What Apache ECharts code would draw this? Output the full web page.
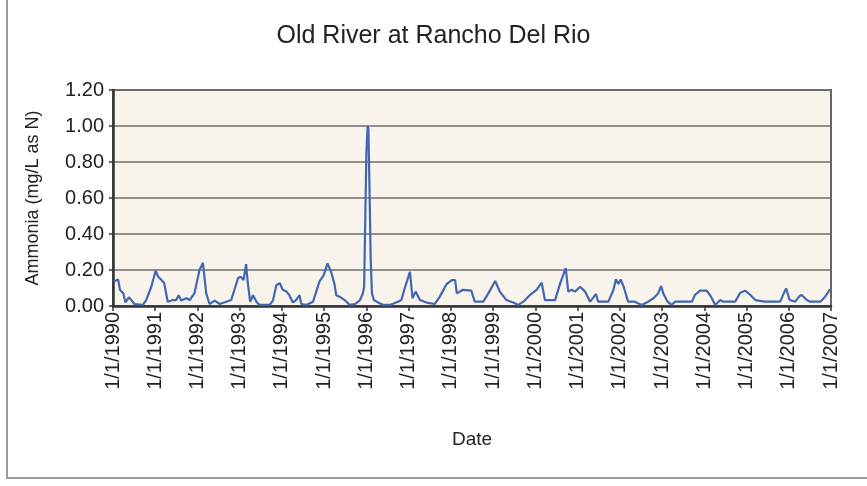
<!DOCTYPE html>
<html>
<head>
<meta charset="utf-8">
<title>Old River at Rancho Del Rio</title>
<script src="https://cdn.jsdelivr.net/npm/echarts@6/dist/echarts.min.js"></script>
<style>
  html, body { margin: 0; padding: 0; background: #fff; }
  #chart { width: 867px; height: 486px; }
</style>
</head>
<body>
<div id="chart"></div>
<script>
// sample dates and ammonia values (mg/L as N)
var dates = [
  '1990-01-05','1990-02-14','1990-03-02','1990-04-01','1990-04-19','1990-05-18','1990-06-09','1990-07-05','1990-09-17','1990-10-15','1990-11-28',
  '1991-01-05','1991-01-26','1991-02-25','1991-03-20','1991-04-19','1991-06-02','1991-07-01','1991-07-23','1991-08-14','1991-09-27','1991-10-26','1991-12-06',
  '1992-01-19','1992-02-18','1992-03-17','1992-04-15','1992-05-29','1992-07-12','1992-09-06','1992-10-19','1992-12-17',
  '1993-01-08','1993-02-03','1993-02-25','1993-03-09','1993-04-01','1993-04-26','1993-05-25','1993-06-20','1993-09-17','1993-10-15','1993-11-14','1993-12-13',
  '1994-01-08','1994-02-10','1994-03-06','1994-04-05','1994-05-03','1994-06-02','1994-06-17','1994-07-30','1994-09-27','1994-11-21','1994-12-27',
  '1995-01-30','1995-03-02','1995-04-01','1995-04-15','1995-05-14','1995-06-27','1995-08-11','1995-09-24','1995-11-07','1995-12-02','1995-12-13','1995-12-24',
  '1996-01-01','1996-01-12','1996-01-19','1996-01-30','1996-02-07','1996-02-18','1996-03-06','1996-04-12','1996-05-25','1996-07-23','1996-10-01','1996-10-30','1996-11-28',
  '1997-01-12','1997-02-03','1997-03-02','1997-04-08','1997-06-06','1997-08-14','1997-09-27','1997-11-25',
  '1998-01-08','1998-02-07','1998-02-21','1998-04-15','1998-06-27','1998-07-26','1998-10-08','1998-11-21',
  '1999-01-19','1999-02-28','1999-04-26','1999-06-24','1999-08-07','1999-09-20','1999-11-14',
  '2000-01-12','2000-02-25','2000-03-24','2000-06-20','2000-08-03','2000-09-20','2000-10-12','2000-11-11','2000-12-09',
  '2001-01-23','2001-03-06','2001-04-19','2001-05-14','2001-06-09','2001-06-27','2001-09-24','2001-11-07','2001-11-28','2001-12-20',
  '2002-01-08','2002-02-03','2002-03-13','2002-05-10','2002-07-08','2002-08-21','2002-10-19','2002-11-28','2002-12-24',
  '2003-01-12','2003-02-18','2003-03-24','2003-04-23','2003-09-17','2003-10-12','2003-11-25',
  '2004-01-23','2004-02-28','2004-04-05','2004-05-18','2004-06-13','2004-09-24','2004-11-07','2004-12-20',
  '2005-02-03','2005-03-17','2005-06-09','2005-10-19','2005-11-18','2005-12-09',
  '2006-01-08','2006-02-25','2006-04-05','2006-04-23','2006-06-06','2006-07-05','2006-10-01','2006-11-11','2006-12-24'
];
var ammonia = [
  0.135,0.148,0.09,0.07,0.02,0.048,0.033,0.011,0.006,0.033,0.107,
  0.196,0.163,0.144,0.126,0.024,0.033,0.033,0.06,0.03,0.043,0.033,0.07,
  0.2,0.24,0.07,0.011,0.03,0.011,0.024,0.033,0.154,
  0.163,0.144,0.233,0.144,0.024,0.06,0.024,0.006,0.006,0.03,0.117,0.126,
  0.09,0.08,0.06,0.02,0.033,0.06,0.011,0.006,0.024,0.135,0.17,
  0.237,0.19,0.12,0.06,0.052,0.033,0.006,0.011,0.033,0.07,0.11,0.54,
  0.85,1.0,0.98,0.58,0.27,0.07,0.033,0.019,0.006,0.006,0.024,0.033,0.1,
  0.19,0.043,0.08,0.033,0.019,0.011,0.052,0.122,
  0.144,0.144,0.07,0.09,0.085,0.024,0.024,0.07,
  0.139,0.08,0.033,0.019,0.006,0.024,0.06,
  0.09,0.13,0.033,0.033,0.126,0.21,0.08,0.09,0.08,
  0.107,0.08,0.024,0.045,0.067,0.024,0.024,0.09,0.148,0.122,
  0.148,0.107,0.024,0.024,0.006,0.019,0.043,0.07,0.111,
  0.07,0.024,0.006,0.024,0.024,0.061,0.085,
  0.085,0.052,0.006,0.033,0.024,0.024,0.074,0.085,
  0.061,0.033,0.024,0.024,0.07,0.098,
  0.033,0.024,0.056,0.061,0.033,0.024,0.024,0.052,0.093
];
var xMin = '1990-01-01';
var xMax = '2007-01-01';
var yTicks = [0, 0.2, 0.4, 0.6, 0.8, 1.0, 1.2];

var seriesData = dates.map(function (d, i) { return [d, ammonia[i]]; });
var YEAR = 365 * 24 * 3600 * 1000;
var fontFam = '"Liberation Sans", Arial, sans-serif';

var myChart = echarts.init(document.getElementById('chart'));
var option = {
  backgroundColor: '#fff',
  animation: false,
  title: {
    text: 'Old River at Rancho Del Rio',
    left: 'center',
    top: 19,
    textStyle: { fontFamily: fontFam, fontSize: 25, fontWeight: 'normal', color: '#222' }
  },
  grid: {
    left: 113, right: 36, top: 90, bottom: 180,
    show: true,
    backgroundColor: '#F8F4EC',
    borderColor: '#666',
    borderWidth: 2
  },
  xAxis: {
    type: 'time',
    min: xMin,
    max: xMax,
    minInterval: YEAR,
    maxInterval: YEAR + 24 * 3600 * 1000,
    name: 'Date',
    nameLocation: 'middle',
    nameGap: 124,
    nameTextStyle: { fontFamily: fontFam, fontSize: 19, color: '#222' },
    axisLine: { show: true, lineStyle: { color: '#333', width: 2.5 } },
    axisTick: { show: true, length: 5, lineStyle: { color: '#333', width: 1.5 } },
    axisLabel: {
      rotate: 90,
      margin: 6,
      fontFamily: fontFam,
      fontSize: 20,
      color: '#222',
      showMinLabel: true,
      showMaxLabel: true,
      formatter: function (v) {
        var d = new Date(v);
        return (d.getMonth() + 1) + '/' + d.getDate() + '/' + d.getFullYear();
      }
    },
    splitLine: { show: false }
  },
  yAxis: {
    type: 'value',
    min: yTicks[0],
    max: yTicks[yTicks.length - 1],
    interval: 0.2,
    name: 'Ammonia (mg/L as N)',
    nameLocation: 'middle',
    nameRotate: 90,
    nameGap: 71,
    nameTextStyle: { fontFamily: fontFam, fontSize: 18, color: '#222' },
    axisLine: { show: true, lineStyle: { color: '#333', width: 2.5 } },
    axisTick: { show: true, length: 4, lineStyle: { color: '#333', width: 1.5 } },
    axisLabel: {
      margin: 9,
      fontFamily: fontFam,
      fontSize: 20,
      color: '#222',
      formatter: function (v) { return v.toFixed(2); }
    },
    splitLine: { show: true, lineStyle: { color: '#6f6f6f', width: 1.5 } }
  },
  series: [{
    name: 'Ammonia',
    type: 'line',
    data: seriesData,
    showSymbol: false,
    lineStyle: { color: '#4267B2', width: 2.2 },
    itemStyle: { color: '#4267B2' }
  }],
  graphic: [
    { type: 'line', silent: true, shape: { x1: 7, y1: 0, x2: 7, y2: 478 }, style: { stroke: '#999', lineWidth: 2 } },
    { type: 'line', silent: true, shape: { x1: 6, y1: 478, x2: 867, y2: 478 }, style: { stroke: '#999', lineWidth: 2 } }
  ]
};
myChart.setOption(option);
window.onresize = function () {
  myChart.resize();
};
</script>
</body>
</html>
